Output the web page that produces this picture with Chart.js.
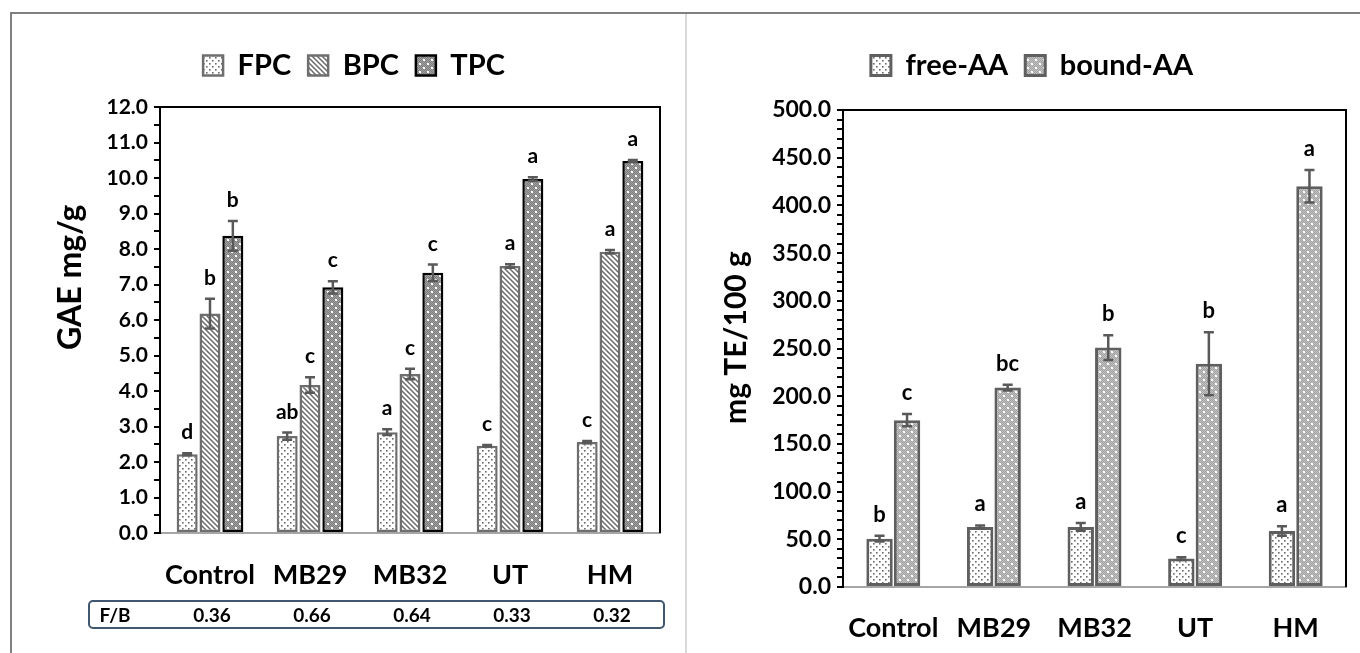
<!DOCTYPE html>
<html>
<head>
<meta charset="utf-8">
<script src="https://cdn.jsdelivr.net/npm/chart.js@4.4.1/dist/chart.umd.min.js"></script>
<style>
    body { margin: 0; background: #fff; overflow: hidden; width: 1360px; height: 653px; position: relative; font-family: Lato, sans-serif; }
    .frame { position: absolute; left: 10px; top: 12px; width: 1400px; height: 700px; border-top: 2px solid #808080; border-left: 2px solid #808080; }
    .divider { position: absolute; left: 685px; top: 14px; width: 2px; height: 640px; background: #d9d9d9; }
    canvas { position: absolute; }
    #leftChart { left: 10px; top: 14px; }
    #rightChart { left: 686px; top: 14px; }
    .fb-box { position: absolute; left: 88px; top: 600px; width: 573px; height: 25px; border: 2px solid #3f5870; border-radius: 5px; }
    .fb-cell { position: absolute; top: 601px; height: 27px; line-height: 27px; font-weight: bold; font-size: 19px; color: #000; transform: translateX(-50%); }
</style>
</head>
<body>
<div class="frame"></div>
<div class="divider"></div>
<canvas id="leftChart" width="689" height="590"></canvas>
<canvas id="rightChart" width="696" height="639"></canvas>
<div class="fb-box"></div>
<div id="fbRow"></div>
<script>
// Categories
const categories = ['Control', 'MB29', 'MB32', 'UT', 'HM'];

// Left chart: phenolic content (GAE mg/g)
const fpc = [2.22, 2.73, 2.84, 2.46, 2.56];
const fpcErr = [0.03, 0.10, 0.08, 0.02, 0.03];
const fpcLetters = ['d', 'ab', 'a', 'c', 'c'];
const bpc = [6.18, 4.17, 4.48, 7.52, 7.92];
const bpcErr = [0.42, 0.22, 0.15, 0.05, 0.05];
const bpcLetters = ['b', 'c', 'c', 'a', 'a'];
const tpc = [8.37, 6.92, 7.33, 9.97, 10.48];
const tpcErr = [0.42, 0.17, 0.23, 0.05, 0.03];
const tpcLetters = ['b', 'c', 'c', 'a', 'a'];
const fbRatio = ['0.36', '0.66', '0.64', '0.33', '0.32'];

// Right chart: antioxidant activity (mg TE/100 g)
const freeAA = [50.7, 63.0, 63.0, 29.8, 58.7];
const freeErr = [3.0, 1.5, 4.0, 1.5, 5.0];
const freeLetters = ['b', 'a', 'a', 'c', 'a'];
const boundAA = [174.9, 209.0, 251.0, 234.0, 420.0];
const boundErr = [6.5, 3.0, 13.0, 33.0, 17.0];
const boundLetters = ['c', 'bc', 'b', 'b', 'a'];

const FONT = 'Lato';

// Fill patterns
function makeTile(size, draw) {
    const c = document.createElement('canvas');
    c.width = size;
    c.height = size;
    const g = c.getContext('2d');
    draw(g, size);
    return g.createPattern(c, 'repeat');
}

const dotsPattern = makeTile(6, (g, s) => {
    g.fillStyle = '#fff';
    g.fillRect(0, 0, s, s);
    g.fillStyle = '#6a6a6a';
    g.fillRect(1, 1, 1.6, 1.6);
    g.fillRect(4, 4, 1.6, 1.6);
});

const hatchPattern = makeTile(5, (g, s) => {
    g.fillStyle = '#fff';
    g.fillRect(0, 0, s, s);
    g.strokeStyle = '#6a6a6a';
    g.lineWidth = 1.5;
    g.beginPath();
    g.moveTo(-1, -1); g.lineTo(s + 1, s + 1);
    g.moveTo(-1, s - 1); g.lineTo(1, s + 1);
    g.moveTo(s - 1, -1); g.lineTo(s + 1, 1);
    g.stroke();
});

function greyDots(base, dark) {
    return makeTile(8, (g, s) => {
        g.fillStyle = base;
        g.fillRect(0, 0, s, s);
        g.fillStyle = dark;
        for (let x = 0; x < s; x++) {
            for (let y = 0; y < s; y++) {
                if ((x + y) % 2 === 0) g.fillRect(x, y, 1, 1);
            }
        }
        g.fillStyle = '#fff';
        g.fillRect(1, 1, 2, 2);
        g.fillRect(5, 5, 2, 2);
    });
}
const darkPattern = greyDots('#a2a2a2', '#7c7c7c');
const lightPattern = greyDots('#c4c4c4', '#a0a0a0');

// Patch legend height so the plot area sits where the original does
const legendHeight = {
    id: 'legendHeight',
    beforeLayout(chart, args, opts) {
        const legend = chart.legend;
        if (legend && !legend._patched) {
            const fit = legend.fit;
            legend.fit = function () {
                fit.call(this);
                this.height = opts.h;
            };
            legend._patched = true;
        }
    }
};

// Black top/right frame of the plot area
const plotFrame = {
    id: 'plotFrame',
    afterDatasetsDraw(chart) {
        const { ctx, chartArea: a } = chart;
        ctx.save();
        ctx.strokeStyle = '#000';
        ctx.lineWidth = 2;
        ctx.beginPath();
        ctx.moveTo(a.left, a.top);
        ctx.lineTo(a.right, a.top);
        ctx.lineTo(a.right, a.bottom);
        ctx.stroke();
        ctx.restore();
    }
};

// Error bars and significance letters
const errorBars = {
    id: 'errorBars',
    afterDatasetsDraw(chart, args, opts) {
        const { ctx } = chart;
        const y = chart.scales.y;
        ctx.save();
        chart.data.datasets.forEach((ds, i) => {
            const meta = chart.getDatasetMeta(i);
            meta.data.forEach((bar, j) => {
                const v = ds.data[j];
                const e = ds.errors[j];
                const top = y.getPixelForValue(v + e);
                const bot = y.getPixelForValue(v - e);
                const cap = opts.cap;
                ctx.strokeStyle = '#595959';
                ctx.lineWidth = 2.5;
                ctx.beginPath();
                ctx.moveTo(bar.x, top); ctx.lineTo(bar.x, bot);
                ctx.moveTo(bar.x - cap / 2, top); ctx.lineTo(bar.x + cap / 2, top);
                ctx.moveTo(bar.x - cap / 2, bot); ctx.lineTo(bar.x + cap / 2, bot);
                ctx.stroke();

                ctx.fillStyle = '#000';
                ctx.font = `bold ${opts.size}px ${FONT}`;
                ctx.textAlign = 'center';
                ctx.textBaseline = 'alphabetic';
                ctx.fillText(ds.letters[j], bar.x, top - opts.gap);
            });
        });
        ctx.restore();
    }
};

function barSet(label, data, errors, letters, fill, border) {
    return {
        label,
        data,
        errors,
        letters,
        backgroundColor: fill,
        borderColor: border,
        borderWidth: 2.5,
        borderSkipped: false
    };
}

function chartOptions(cfg) {
    return {
        responsive: false,
        animation: false,
        layout: { padding: { top: 20, right: cfg.padRight, left: cfg.padLeft, bottom: 0 } },
        plugins: {
            legend: {
                position: 'top',
                labels: {
                    color: '#000',
                    font: { family: FONT, size: 29, weight: 'bold' },
                    boxWidth: 20,
                    boxHeight: 20,
                    padding: 17
                }
            },
            tooltip: { enabled: false },
            legendHeight: { h: cfg.legendH },
            errorBars: { cap: 10, size: cfg.letterSize, gap: cfg.letterGap }
        },
        scales: {
            x: {
                grid: { display: false },
                border: { display: true, color: '#a6a6a6', width: 2 },
                ticks: {
                    color: '#000',
                    font: { family: FONT, size: 27, weight: 'bold' },
                    padding: cfg.xPad
                },
                afterFit: s => { s.height = cfg.xH; }
            },
            y: {
                min: 0,
                max: cfg.yMax,
                grid: {
                    drawOnChartArea: false,
                    drawTicks: true,
                    tickLength: 6,
                    color: '#000',
                    lineWidth: 2
                },
                border: { display: true, color: '#000', width: 2 },
                ticks: {
                    stepSize: cfg.step,
                    autoSkip: false,
                    color: '#000',
                    padding: 6,
                    font: { family: FONT, size: cfg.tickSize, weight: 'bold' },
                    callback: v => (Math.abs(v % cfg.labelEvery) < 1e-6 ? v.toFixed(1) : '')
                },
                title: {
                    display: true,
                    text: cfg.yTitle,
                    color: '#000',
                    font: { family: FONT, size: cfg.titleSize, weight: 'bold' },
                    padding: { top: cfg.titlePad, bottom: 0 }
                },
                afterFit: s => { s.width = cfg.yW; }
            }
        }
    };
}

const leftChart = new Chart(document.getElementById('leftChart'), {
    type: 'bar',
    data: {
        labels: categories,
        datasets: [
            barSet('FPC', fpc, fpcErr, fpcLetters, dotsPattern, '#6e6e6e'),
            barSet('BPC', bpc, bpcErr, bpcLetters, hatchPattern, '#6e6e6e'),
            barSet('TPC', tpc, tpcErr, tpcLetters, darkPattern, '#000')
        ].map(d => Object.assign(d, { categoryPercentage: 0.685, barPercentage: 0.92 }))
    },
    options: chartOptions({
        padLeft: 38, padRight: 39, legendH: 73, xH: 71, xPad: 18, yW: 112, yMax: 12, step: 0.5, labelEvery: 1,
        tickSize: 21, yTitle: '           GAE mg/g', titleSize: 32, titlePad: 3, letterSize: 21, letterGap: 14
    }),
    plugins: [legendHeight, plotFrame, errorBars]
});

const rightChart = new Chart(document.getElementById('rightChart'), {
    type: 'bar',
    data: {
        labels: categories,
        datasets: [
            barSet('free-AA', freeAA, freeErr, freeLetters, dotsPattern, '#5f5f5f'),
            barSet('bound-AA', boundAA, boundErr, boundLetters, lightPattern, '#5f5f5f')
        ].map(d => Object.assign(d, { categoryPercentage: 0.547, barPercentage: 0.96, borderWidth: 3 }))
    },
    options: chartOptions({
        padLeft: 32, padRight: 36, legendH: 76, xH: 66, xPad: 17, yW: 125, yMax: 500, step: 10, labelEvery: 50,
        tickSize: 23, yTitle: '   mg TE/100 g', titleSize: 30, titlePad: 0, letterSize: 22, letterGap: 14
    }),
    plugins: [legendHeight, plotFrame, errorBars]
});

// F/B ratio row, aligned with the left chart's categories
const fbRow = document.getElementById('fbRow');
const leftX = leftChart.scales.x;
const fbLabel = document.createElement('div');
fbLabel.className = 'fb-cell';
fbLabel.style.left = '115px';
fbLabel.textContent = 'F/B';
fbRow.appendChild(fbLabel);
fbRatio.forEach((r, i) => {
    const cell = document.createElement('div');
    cell.className = 'fb-cell';
    cell.style.left = (10 + leftX.getPixelForValue(i) + 2) + 'px';
    cell.textContent = r;
    fbRow.appendChild(cell);
});
</script>
</body>
</html>
